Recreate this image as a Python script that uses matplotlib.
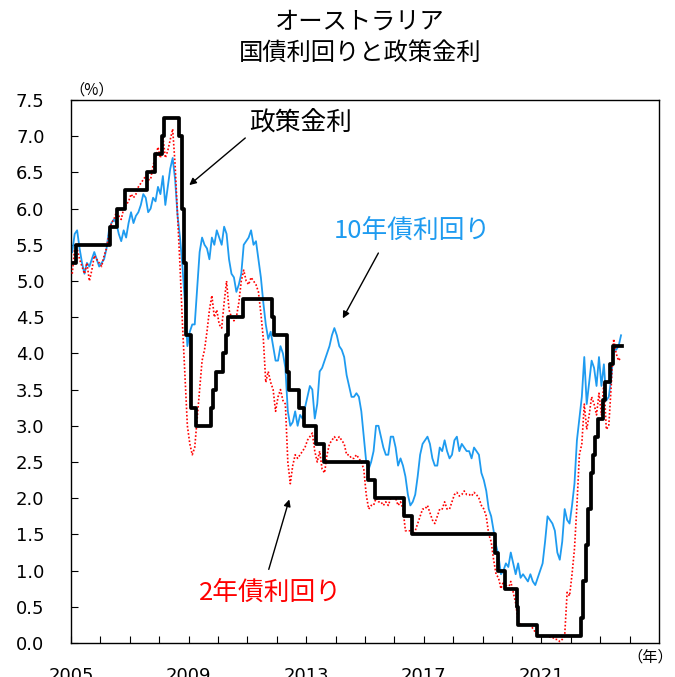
import matplotlib
matplotlib.use("Agg")
import matplotlib.pyplot as plt
import numpy as np

plt.rcParams['font.family'] = ['Noto Sans CJK JP', 'DejaVu Sans']

# ---- data (monthly, Jan 2005 - Sep 2023) ----
start_year = 2005
yield_10y = [
    5.40, 5.65, 5.70, 5.45, 5.25, 5.10, 5.25, 5.20, 5.30, 5.40, 5.30, 5.20,
    5.25, 5.30, 5.45, 5.70, 5.80, 5.85, 5.80, 5.65, 5.55, 5.70, 5.60, 5.80,
    5.95, 5.80, 5.90, 5.95, 6.05, 6.20, 6.15, 5.95, 6.00, 6.15, 6.10, 6.30,
    6.20, 6.45, 6.05, 6.30, 6.55, 6.70, 6.40, 5.90, 5.60, 5.20, 4.70, 4.10,
    4.30, 4.40, 4.40, 4.90, 5.40, 5.60, 5.50, 5.45, 5.30, 5.60, 5.50, 5.70,
    5.60, 5.50, 5.75, 5.65, 5.30, 5.10, 5.05, 4.85, 4.95, 5.10, 5.50, 5.55,
    5.60, 5.70, 5.50, 5.55, 5.30, 5.05, 4.70, 4.40, 4.20, 4.30, 4.10, 3.90,
    3.90, 4.10, 4.00, 3.80, 3.20, 3.00, 3.05, 3.20, 3.00, 3.15, 3.10, 3.25,
    3.40, 3.55, 3.50, 3.10, 3.30, 3.75, 3.80, 3.90, 4.00, 4.10, 4.25, 4.35,
    4.25, 4.10, 4.05, 3.95, 3.70, 3.55, 3.40, 3.40, 3.45, 3.40, 3.20, 2.85,
    2.50, 2.40, 2.50, 2.65, 3.00, 3.00, 2.85, 2.70, 2.60, 2.60, 2.85, 2.85,
    2.70, 2.45, 2.55, 2.45, 2.30, 2.05, 1.90, 1.95, 2.05, 2.30, 2.60, 2.75,
    2.80, 2.85, 2.75, 2.55, 2.45, 2.45, 2.70, 2.65, 2.80, 2.65, 2.55, 2.60,
    2.80, 2.85, 2.65, 2.75, 2.70, 2.65, 2.65, 2.55, 2.70, 2.65, 2.60, 2.35,
    2.25, 2.10, 1.85, 1.75, 1.55, 1.35, 1.20, 0.95, 1.00, 1.10, 1.05, 1.25,
    1.10, 0.95, 1.10, 0.90, 0.95, 0.90, 0.85, 0.95, 0.85, 0.80, 0.90, 1.00,
    1.10, 1.40, 1.75, 1.70, 1.65, 1.55, 1.25, 1.15, 1.40, 1.85, 1.70, 1.65,
    1.90, 2.20, 2.80, 3.10, 3.40, 3.95, 3.30, 3.60, 3.90, 3.80, 3.55, 3.95,
    3.55, 3.85, 3.35, 3.40, 3.65, 4.05, 4.05, 4.10, 4.25,
]
yield_2y = [
    5.10, 5.45, 5.45, 5.30, 5.20, 5.10, 5.25, 5.00, 5.15, 5.35, 5.30, 5.25,
    5.20, 5.35, 5.45, 5.65, 5.80, 5.85, 5.95, 5.90, 5.85, 6.00, 6.05, 6.10,
    6.20, 6.15, 6.20, 6.30, 6.35, 6.40, 6.45, 6.40, 6.40, 6.60, 6.70, 6.85,
    6.70, 7.00, 6.70, 6.80, 6.95, 7.10, 6.60, 5.90, 5.20, 4.40, 3.70, 3.00,
    2.75, 2.60, 2.70, 3.10, 3.50, 3.90, 4.05, 4.30, 4.60, 4.80, 4.50, 4.60,
    4.40, 4.35, 4.70, 5.00, 4.60, 4.50, 4.45, 4.50, 4.70, 5.00, 5.15, 5.00,
    4.95, 5.05, 5.00, 4.95, 4.85, 4.55, 4.20, 3.60, 3.75, 3.60, 3.50, 3.20,
    3.40, 3.50, 3.35, 3.30, 2.50, 2.20, 2.45, 2.60, 2.55, 2.60, 2.65, 2.70,
    2.80, 2.85, 2.90, 2.65, 2.50, 2.65, 2.40, 2.35, 2.60, 2.75, 2.80, 2.85,
    2.80, 2.85, 2.80, 2.75, 2.60, 2.60, 2.55, 2.55, 2.60, 2.55, 2.50, 2.40,
    2.05, 1.85, 1.90, 1.90, 2.00, 1.95, 1.95, 1.90, 1.95, 1.90, 2.00, 2.00,
    2.00, 1.90, 1.95, 1.85, 1.55, 1.55, 1.55, 1.50, 1.55, 1.65, 1.75, 1.85,
    1.85, 1.90, 1.80, 1.70, 1.65, 1.75, 1.85, 1.85, 1.95, 1.85, 1.85, 1.95,
    2.05, 2.08, 2.03, 2.05, 2.10, 2.05, 2.05, 2.03, 2.08, 2.05, 2.00, 1.90,
    1.85, 1.75, 1.50, 1.40, 1.15, 0.95, 0.90, 0.75, 0.85, 0.80, 0.75, 0.85,
    0.70, 0.55, 0.30, 0.25, 0.25, 0.25, 0.25, 0.25, 0.20, 0.15, 0.10, 0.10,
    0.10, 0.10, 0.10, 0.08, 0.08, 0.05, 0.05, 0.02, 0.05, 0.10, 0.70, 0.65,
    0.95, 1.30, 1.90, 2.60, 2.75, 3.30, 2.95, 3.15, 3.40, 3.30, 3.15, 3.45,
    3.15, 3.60, 2.95, 3.00, 3.55, 4.20, 4.00, 3.90, 3.95,
]

# policy rate: decision dates (decimal year) and new rate
policy_dates = [
    2005.00, 2005.17, 2006.34, 2006.58, 2006.84, 2007.58, 2007.85, 2008.09,
    2008.17, 2008.68, 2008.76, 2008.84, 2008.92, 2009.09, 2009.26, 2009.76,
    2009.84, 2009.92, 2010.17, 2010.26, 2010.34, 2010.84, 2011.84, 2011.92,
    2012.34, 2012.42, 2012.76, 2012.92, 2013.34, 2013.59, 2015.09, 2015.34,
    2016.34, 2016.59, 2019.42, 2019.51, 2019.76, 2020.17, 2020.22, 2020.84,
    2022.34, 2022.42, 2022.51, 2022.59, 2022.68, 2022.76, 2022.84, 2022.92,
    2023.09, 2023.17, 2023.34, 2023.42, 2023.75,
]
policy_rates = [
    5.25, 5.50, 5.75, 6.00, 6.25, 6.50, 6.75, 7.00,
    7.25, 7.00, 6.00, 5.25, 4.25, 3.25, 3.00, 3.25,
    3.50, 3.75, 4.00, 4.25, 4.50, 4.75, 4.50, 4.25,
    3.75, 3.50, 3.25, 3.00, 2.75, 2.50, 2.25, 2.00,
    1.75, 1.50, 1.25, 1.00, 0.75, 0.50, 0.25, 0.10,
    0.35, 0.85, 1.35, 1.85, 2.35, 2.60, 2.85, 3.10,
    3.35, 3.60, 3.85, 4.10, 4.10,
]

x_labels = ['2005', '2009', '2013', '2017', '2021']
y_ticks = [0.0, 0.5, 1.0, 1.5, 2.0, 2.5, 3.0, 3.5, 4.0, 4.5, 5.0, 5.5, 6.0, 6.5, 7.0, 7.5]

months_10 = start_year + (np.arange(len(yield_10y)) + 0.5) / 12.0
months_2 = start_year + (np.arange(len(yield_2y)) + 0.5) / 12.0

BLUE = '#1E9BF0'

fig = plt.figure(figsize=(6.75, 6.77), dpi=100)
ax = fig.add_axes([71/675, 1 - 643/677, (659-71)/675, (643-100)/677])

ax.plot(months_10, yield_10y, color=BLUE, lw=1.3, zorder=2)
ax.plot(months_2, yield_2y, color='red', lw=1.2, ls=(0, (1, 1.2)), zorder=3)
ax.step(policy_dates, policy_rates, where='post', color='black', lw=2.7, zorder=4)

ax.set_xlim(2005, 2025)
ax.set_ylim(0, 7.5)
ax.set_yticks(y_ticks)
ax.set_yticklabels([f'{v:.1f}' for v in y_ticks], fontsize=13, family='DejaVu Sans')
years = list(range(2005, 2025))
ax.set_xticks(years)
ax.set_xticklabels([str(y) if str(y) in x_labels else '' for y in years],
                   fontsize=13, family='DejaVu Sans')
ax.tick_params(axis='y', direction='in', length=5, pad=19, width=0.8)
ax.tick_params(axis='x', direction='in', length=5, pad=17, width=0.8)
for s in ax.spines.values():
    s.set_linewidth(1.0)

# titles
fig.text(0.533, 1 - 22/677, 'オーストラリア', ha='center', va='center', fontsize=17.5)
fig.text(0.533, 1 - 53/677, '国債利回りと政策金利', ha='center', va='center', fontsize=17.5)

fig.text(92/675, 1 - 90/677, '（%）', ha='center', va='center', fontsize=11)
fig.text(650/675, 1 - 657/677, '（年）', ha='center', va='center', fontsize=11)

# annotations
ax.annotate('', xy=(2008.95, 6.3), xytext=(2011.0, 7.0),
            arrowprops=dict(arrowstyle='-|>', color='black', lw=1.0, mutation_scale=10))
ax.text(2012.8, 7.18, '政策金利', fontsize=18.5, ha='center', va='center', color='black')

ax.annotate('', xy=(2014.2, 4.45), xytext=(2015.5, 5.42),
            arrowprops=dict(arrowstyle='-|>', color='black', lw=1.0, mutation_scale=10))
ax.text(2016.6, 5.70, '10年債利回り', fontsize=18.5, ha='center', va='center', color=BLUE)

ax.annotate('', xy=(2012.45, 2.02), xytext=(2011.7, 0.98),
            arrowprops=dict(arrowstyle='-|>', color='black', lw=1.0, mutation_scale=10))
ax.text(2011.8, 0.70, '2年債利回り', fontsize=18.5, ha='center', va='center', color='red')

fig.savefig('out.png', dpi=100)
